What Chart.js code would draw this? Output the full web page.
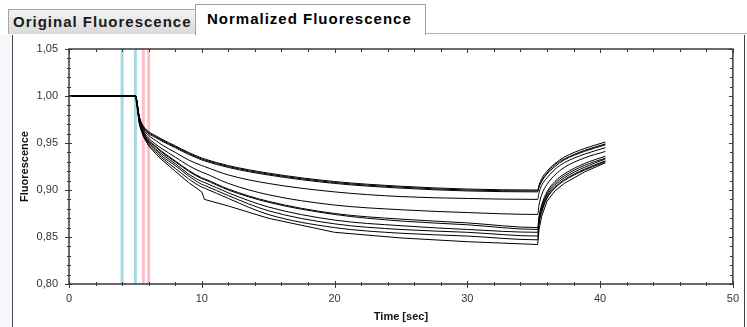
<!DOCTYPE html>
<html>
<head>
<meta charset="utf-8">
<script src="https://cdn.jsdelivr.net/npm/chart.js@4"></script>
<style>
  html, body { margin: 0; padding: 0; background: #fff; }
  body { width: 747px; height: 327px; position: relative; overflow: hidden; font-family: "Liberation Sans", Arial, sans-serif; }
  .tab { position: absolute; box-sizing: border-box; font-weight: bold; font-size: 15px; letter-spacing: 1px; white-space: nowrap; }
  #tab1 { left: 8px; top: 9px; width: 188px; height: 25px; padding: 3px 0 0 4px; color: #1a1a1a;
          background: linear-gradient(#f2f2f2, #dadada); border: 1px solid #a5a5a5; border-bottom: none; }
  #tab2 { left: 195px; top: 4px; width: 231px; height: 31px; padding: 5px 0 0 11px; color: #000;
          background: #fff; border: 1px solid #a0a0a0; border-bottom: none; }
  #strip { position: absolute; left: 425px; right: 0; top: 33px; height: 0; border-top: 1px solid #b5b5b5; }
  #side { position: absolute; left: 0; top: 35px; width: 11px; bottom: 0; background: #f6f7fb; }
  #frame { position: absolute; left: 12px; top: 35px; right: 2px; bottom: -4px; border: 1px solid #444; border-top: none; }
  canvas { position: absolute; left: 0; top: 0; }
</style>
</head>
<body>
<div id="side"></div>
<div id="strip"></div>
<div class="tab" id="tab1">Original Fluorescence</div>
<div class="tab" id="tab2">Normalized Fluorescence</div>
<div id="frame"></div>
<canvas id="chart" width="747" height="327"></canvas>
<script>
// sample times [sec] shared by all traces
const times = [0, 5, 5.3, 5.6, 6, 6.5, 7, 8, 9, 10, 10.2, 12, 15, 20, 25, 30, 35.3,
               35.4, 35.6, 36, 36.6, 37.3, 38.8, 40.4];

// normalized fluorescence, one array per trace (top to bottom)
const traceA1 = [1.000, 1.000, 0.978, 0.968, 0.962, 0.958, 0.954, 0.947, 0.940, 0.934, 0.933, 0.926, 0.918, 0.909, 0.904, 0.901, 0.900,
                 0.905, 0.912, 0.920, 0.928, 0.935, 0.944, 0.951];
const traceA2 = [1.000, 1.000, 0.977, 0.967, 0.961, 0.957, 0.953, 0.946, 0.939, 0.933, 0.932, 0.925, 0.917, 0.908, 0.903, 0.900, 0.899,
                 0.904, 0.910, 0.918, 0.927, 0.933, 0.942, 0.949];
const traceA3 = [1.000, 1.000, 0.977, 0.966, 0.960, 0.956, 0.952, 0.945, 0.938, 0.932, 0.931, 0.924, 0.916, 0.907, 0.902, 0.899, 0.898,
                 0.903, 0.909, 0.917, 0.925, 0.932, 0.941, 0.948];
const traceB  = [1.000, 1.000, 0.976, 0.965, 0.958, 0.953, 0.948, 0.940, 0.932, 0.926, 0.925, 0.916, 0.907, 0.898, 0.893, 0.891, 0.890,
                 0.897, 0.905, 0.913, 0.922, 0.929, 0.938, 0.945];
const traceC  = [1.000, 1.000, 0.975, 0.963, 0.955, 0.949, 0.944, 0.935, 0.926, 0.919, 0.918, 0.907, 0.895, 0.884, 0.879, 0.876, 0.874,
                 0.884, 0.895, 0.906, 0.916, 0.924, 0.934, 0.941];
const traceD1 = [1.000, 1.000, 0.974, 0.962, 0.953, 0.947, 0.941, 0.931, 0.921, 0.913, 0.912, 0.901, 0.888, 0.875, 0.869, 0.865, 0.860,
                 0.872, 0.884, 0.898, 0.909, 0.917, 0.928, 0.936];
const traceD2 = [1.000, 1.000, 0.974, 0.961, 0.952, 0.946, 0.940, 0.930, 0.920, 0.912, 0.911, 0.900, 0.887, 0.874, 0.867, 0.863, 0.858,
                 0.870, 0.882, 0.896, 0.907, 0.915, 0.926, 0.934];
const traceE  = [1.000, 1.000, 0.973, 0.960, 0.951, 0.944, 0.938, 0.928, 0.917, 0.909, 0.908, 0.897, 0.882, 0.868, 0.862, 0.858, 0.855,
                 0.868, 0.880, 0.894, 0.905, 0.913, 0.924, 0.933];
const traceF  = [1.000, 1.000, 0.972, 0.959, 0.950, 0.943, 0.936, 0.926, 0.915, 0.906, 0.905, 0.894, 0.878, 0.864, 0.858, 0.855, 0.851,
                 0.866, 0.878, 0.892, 0.903, 0.911, 0.922, 0.931];
const traceG  = [1.000, 1.000, 0.971, 0.958, 0.948, 0.941, 0.934, 0.923, 0.912, 0.903, 0.902, 0.891, 0.874, 0.860, 0.854, 0.851, 0.847,
                 0.863, 0.876, 0.891, 0.902, 0.910, 0.921, 0.930];
// this one has a small step at ~10 s
const traceH  = [1.000, 1.000, 0.970, 0.957, 0.947, 0.939, 0.932, 0.920, 0.908, 0.898, 0.890, 0.883, 0.870, 0.855, 0.849, 0.845, 0.842,
                 0.858, 0.872, 0.888, 0.899, 0.907, 0.919, 0.929];

// cursor markers [sec]
const blueCursors = [4.0, 5.0];
const pinkCursors = [5.6, 6.0];

// axis ticks
const xTicks = [0, 10, 20, 30, 40, 50];
const yTicks = [0.80, 0.85, 0.90, 0.95, 1.00, 1.05];
const xMinorStep = 2;
const yMinorStep = 0.01;

const traces = [traceA1, traceA2, traceA3, traceB, traceC, traceD1, traceD2, traceE, traceF, traceG, traceH];

const datasets = traces.map(vals => ({
    data: times.map((t, i) => ({ x: t, y: vals[i] })),
    borderColor: '#000',
    borderWidth: 1,
    pointRadius: 0,
    // the stepped trace would wobble with a spline, keep it straight
    cubicInterpolationMode: vals === traceH ? 'default' : 'monotone',
    tension: 0,
    fill: false
}));

// cursors go last so they are painted underneath the traces
blueCursors.concat(pinkCursors).forEach((t, i) => {
    datasets.push({
        data: [{ x: t, y: yTicks[0] }, { x: t, y: yTicks[yTicks.length - 1] }],
        borderColor: i < blueCursors.length ? '#a9d8e6' : '#ffbdc8',
        borderWidth: 3,
        pointRadius: 0,
        fill: false
    });
});

// box round the plot with crossing major / minor tick marks
const frameTicks = {
    id: 'frameTicks',
    afterDraw(chart) {
        const { ctx, chartArea: a, scales: { x, y } } = chart;
        ctx.save();
        ctx.strokeStyle = '#3a3a3a';
        ctx.lineWidth = 1;
        ctx.beginPath();
        const xMin = xTicks[0], xMax = xTicks[xTicks.length - 1];
        const yMin = yTicks[0], yMax = yTicks[yTicks.length - 1];
        for (let v = xMin; v <= xMax + 1e-9; v += xMinorStep) {
            const px = Math.round(x.getPixelForValue(v)) + 0.5;
            const major = xTicks.some(t => Math.abs(t - v) < 1e-6);
            ctx.moveTo(px, a.bottom - (major ? 3 : 2)); ctx.lineTo(px, a.bottom + (major ? 4 : 2));
            ctx.moveTo(px, a.top); ctx.lineTo(px, a.top + (major ? 4 : 3));
        }
        for (let v = yMin; v <= yMax + 1e-9; v += yMinorStep) {
            const py = Math.round(y.getPixelForValue(v)) + 0.5;
            const major = yTicks.some(t => Math.abs(t - v) < 1e-6);
            ctx.moveTo(a.left - (major ? 4 : 2), py); ctx.lineTo(a.left + (major ? 3 : 2), py);
            ctx.moveTo(a.right, py); ctx.lineTo(a.right - (major ? 4 : 3), py);
        }
        ctx.stroke();
        ctx.lineWidth = 1.5;
        ctx.strokeRect(a.left, a.top, a.right - a.left, a.bottom - a.top);
        ctx.restore();
    }
};

new Chart(document.getElementById('chart'), {
    type: 'line',
    data: { datasets: datasets },
    options: {
        responsive: false,
        animation: false,
        events: [],
        layout: { padding: { top: 49, right: 14, left: 0, bottom: 0 } },
        plugins: { legend: { display: false }, tooltip: { enabled: false } },
        scales: {
            x: {
                type: 'linear',
                min: xTicks[0],
                max: xTicks[xTicks.length - 1],
                afterBuildTicks: s => { s.ticks = xTicks.map(v => ({ value: v })); },
                afterFit: s => { s.height = 43; },
                grid: { display: false, drawTicks: false },
                border: { display: false },
                ticks: { padding: 8, color: '#333', font: { family: 'Liberation Sans', size: 11 } },
                title: {
                    display: true, text: 'Time [sec]', color: '#111',
                    font: { family: 'Liberation Sans', size: 11, weight: 'bold' },
                    padding: { top: 0, bottom: 3 }
                }
            },
            y: {
                min: yTicks[0],
                max: yTicks[yTicks.length - 1],
                afterBuildTicks: s => { s.ticks = yTicks.map(v => ({ value: v })); },
                afterFit: s => { s.width = 69; },
                grid: { display: false, drawTicks: false },
                border: { display: false },
                ticks: {
                    padding: 11, color: '#333', font: { family: 'Liberation Sans', size: 11 },
                    callback: v => v.toFixed(2).replace('.', ',')
                },
                title: {
                    display: true, text: 'Fluorescence', color: '#111',
                    font: { family: 'Liberation Sans', size: 11, weight: 'bold' },
                    padding: { top: 18, bottom: 0 }
                }
            }
        }
    },
    plugins: [frameTicks]
});
</script>
</body>
</html>
